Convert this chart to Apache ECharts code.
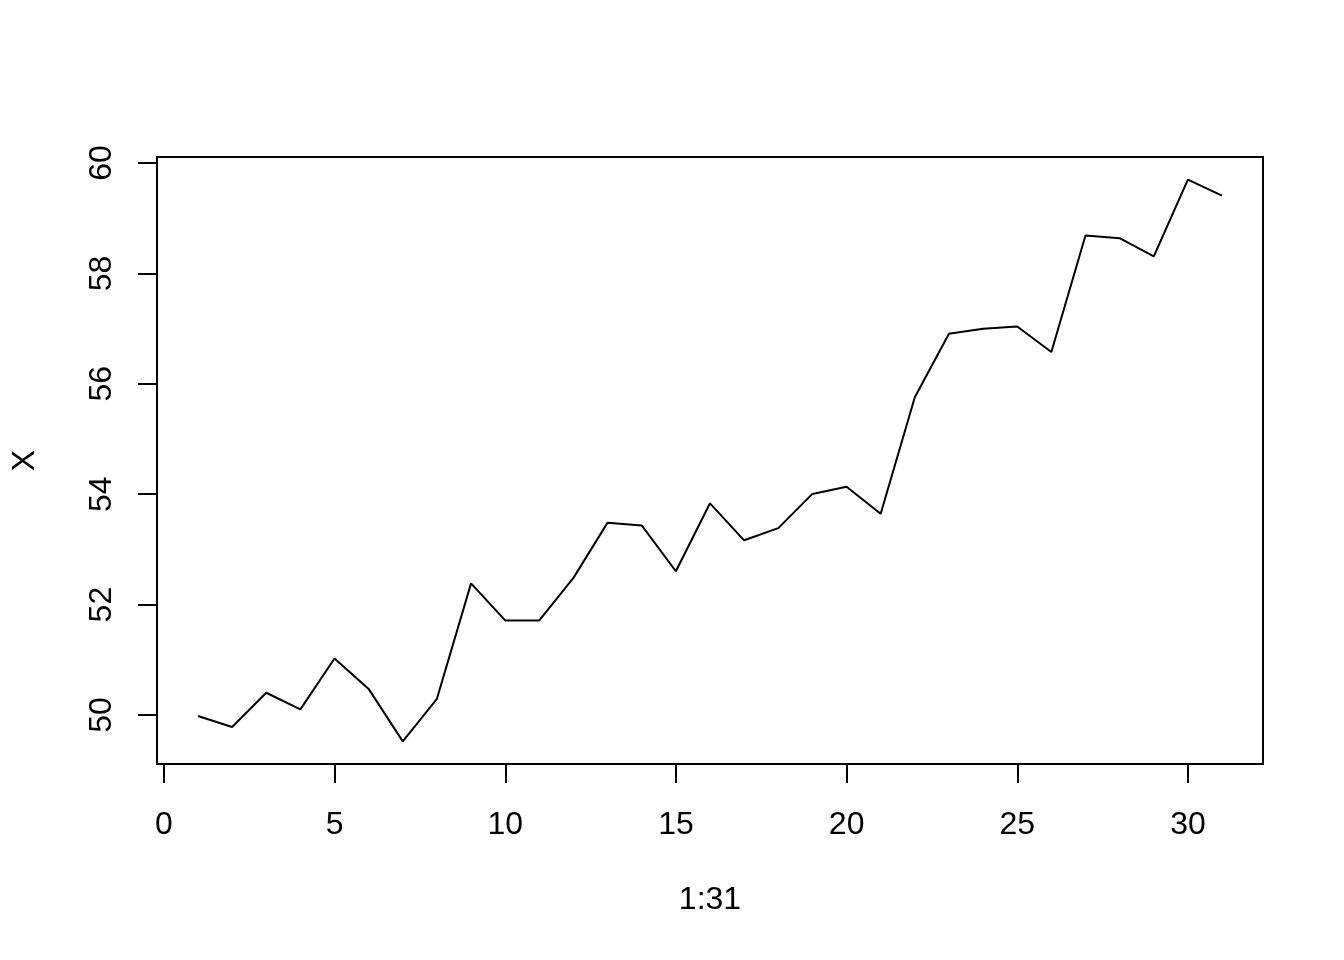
<!DOCTYPE html>
<html>
<head>
<meta charset="utf-8">
<script src="https://cdn.jsdelivr.net/npm/echarts@6/dist/echarts.min.js"></script>
<style>
  html, body { margin: 0; padding: 0; background: #fff; }
  #chart { width: 1344px; height: 960px; }
</style>
</head>
<body>
<div id="chart"></div>
<script>
// data: index 1..31 and X
const idx = Array.from({ length: 31 }, (_, i) => i + 1);
const xValues = [
  49.99, 49.79, 50.41, 50.11, 51.03, 50.48, 49.53, 50.30, 52.39, 51.72,
  51.72, 52.49, 53.49, 53.44, 52.61, 53.84, 53.17, 53.39, 54.01, 54.14,
  53.65, 55.76, 56.91, 57.00, 57.04, 56.58, 58.69, 58.64, 58.31, 59.70,
  59.41
];
const xTicks = [0, 5, 10, 15, 20, 25, 30];
const yTicks = [50, 52, 54, 56, 58, 60];
const xLabel = '1:31';
const yLabel = 'X';

const font = 'Liberation Sans, Arial, sans-serif';
const black = '#000000';

var myChart = echarts.init(document.getElementById('chart'));

var option = {
  animation: false,
  backgroundColor: '#ffffff',
  textStyle: { fontFamily: font },
  grid: [
    // plot box
    { left: 157, top: 157, width: 1106, height: 607, show: true, borderColor: black, borderWidth: 2,
      backgroundColor: 'transparent', outerBoundsMode: 'none', containLabel: false },
    // x ticks
    { left: 164, top: 700, width: 1024, height: 64, outerBoundsMode: 'none', containLabel: false },
    // y ticks
    { left: 157, top: 163, width: 50, height: 552, outerBoundsMode: 'none', containLabel: false }
  ],
  xAxis: [
    {
      gridIndex: 0, type: 'value', min: -0.2, max: 32.2,
      name: xLabel, nameLocation: 'middle', nameGap: 120,
      nameTextStyle: { color: black, fontSize: 32, fontFamily: font },
      axisLine: { show: false }, axisTick: { show: false }, axisLabel: { show: false }, splitLine: { show: false }
    },
    {
      gridIndex: 1, type: 'value', position: 'bottom', min: xTicks[0], max: xTicks[xTicks.length - 1], interval: 5,
      axisLine: { show: true, lineStyle: { color: black, width: 2 } },
      axisTick: { show: true, length: 19, inside: false, lineStyle: { color: black, width: 2 } },
      axisLabel: { show: true, color: black, fontSize: 32, margin: 45, fontFamily: font,
        formatter: v => xTicks.includes(v) ? String(v) : '' },
      splitLine: { show: false }
    },
    { gridIndex: 2, type: 'value', show: false }
  ],
  yAxis: [
    {
      gridIndex: 0, type: 'value', min: 49.12, max: 60.11,
      name: yLabel, nameLocation: 'middle', nameGap: 116, nameRotate: 90,
      nameTextStyle: { color: black, fontSize: 32, fontFamily: font },
      axisLine: { show: false }, axisTick: { show: false }, axisLabel: { show: false }, splitLine: { show: false }
    },
    { gridIndex: 1, type: 'value', show: false },
    {
      gridIndex: 2, type: 'value', position: 'left', min: yTicks[0], max: yTicks[yTicks.length - 1], interval: 2,
      axisLine: { show: true, lineStyle: { color: black, width: 2 } },
      axisTick: { show: true, length: 19, inside: false, lineStyle: { color: black, width: 2 } },
      axisLabel: { show: true, color: black, fontSize: 32, margin: 39, rotate: 90, fontFamily: font,
        formatter: v => yTicks.includes(v) ? String(v) : '' },
      splitLine: { show: false }
    }
  ],
  series: [
    {
      type: 'line',
      xAxisIndex: 0, yAxisIndex: 0,
      data: idx.map((d, i) => [d, xValues[i]]),
      showSymbol: false,
      lineStyle: { color: black, width: 2 },
      silent: true
    }
  ]
};

myChart.setOption(option);
</script>
</body>
</html>
